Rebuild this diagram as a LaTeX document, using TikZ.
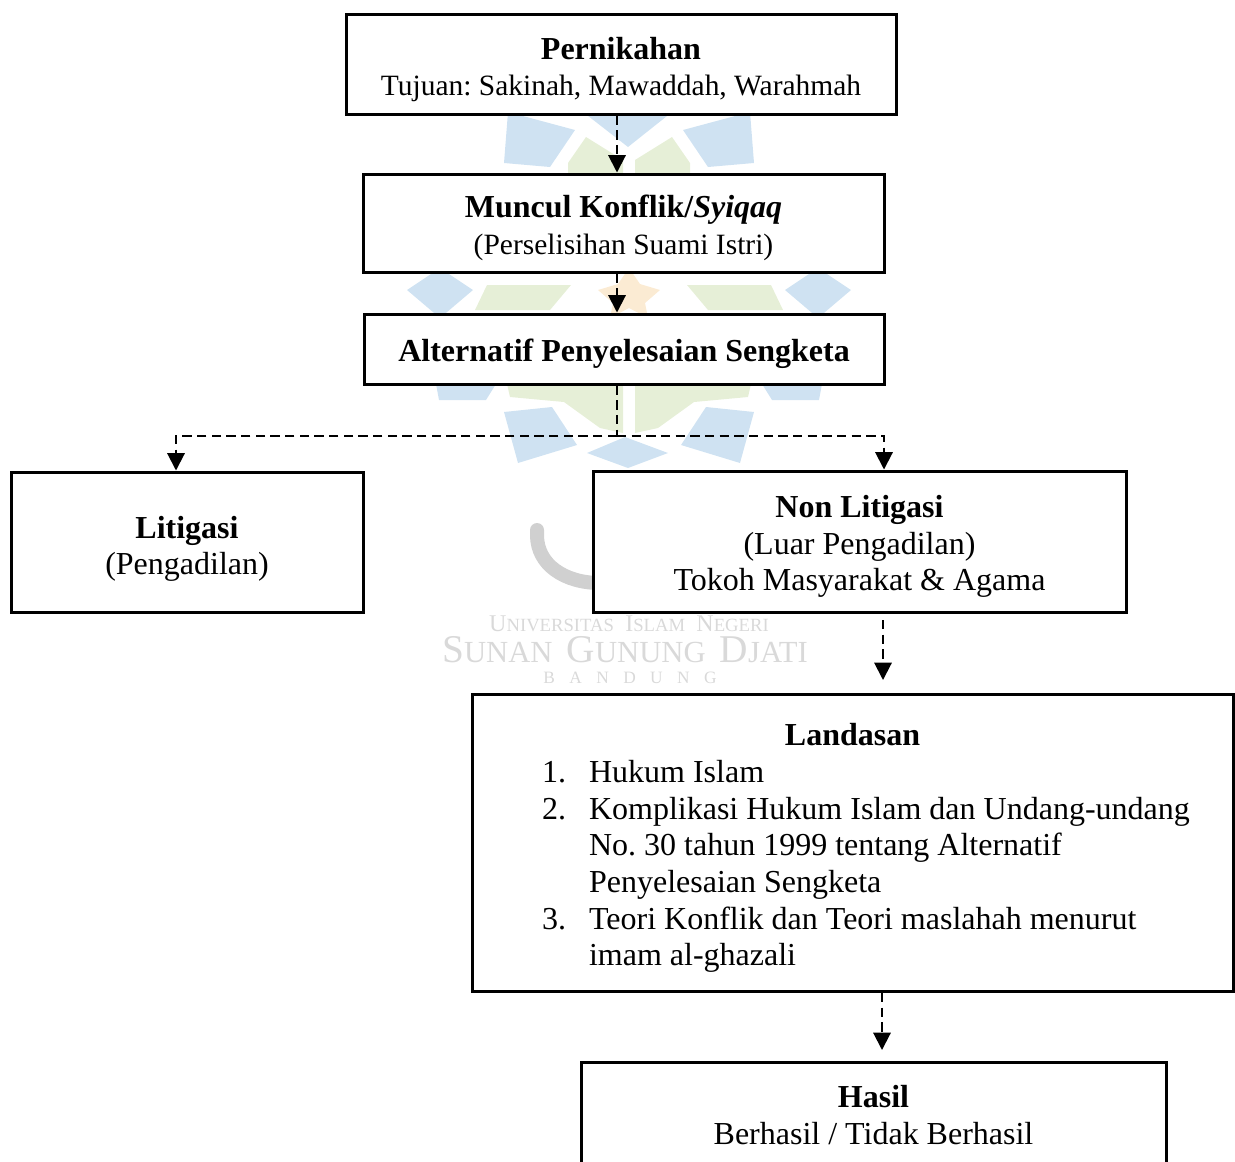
\documentclass[tikz,border=0pt]{standalone}
\usepackage{fontspec}
\setmainfont{Liberation Serif}
\usetikzlibrary{arrows.meta}
\frenchspacing
\definecolor{wmblue}{HTML}{CFE2F2}
\definecolor{wmgreen}{HTML}{E6EFD7}
\definecolor{wmorange}{HTML}{FBEBD3}
\definecolor{wmgray}{HTML}{D9D9D9}
\definecolor{wmarc}{HTML}{D0D0D0}
\newcommand{\bodysize}{\fontsize{24}{27.5}\selectfont}
\newcommand{\subsize}{\fontsize{22.1}{27.5}\selectfont}
\newcommand{\tp}[1]{\rule{0pt}{#1pt}}
\newcommand{\wmbig}[1]{{\fontsize{29.5}{30}\selectfont #1}}
\newcommand{\wmmid}[1]{{\fontsize{23}{24}\selectfont #1}}
\newcommand{\wmsm}[1]{{\fontsize{18}{19}\selectfont #1}}
\newcommand{\wmtin}[1]{{\fontsize{14}{15}\selectfont #1}}
\newcommand{\listline}[2]{\hspace*{20.25pt}\makebox[35.3pt][l]{#1}#2}
\newcommand{\listcont}[1]{\hspace*{55.55pt}#1}
\tikzset{
  boxnode/.style={draw=black,line width=2.25pt,fill=white,inner sep=0pt,align=center,font=\bodysize,anchor=center},
  flow/.style={draw=black,line width=1.5pt,dash pattern=on 7pt off 4pt},
  flowhead/.style={flow,-{Triangle[length=13pt,width=13pt]}},
  wmb/.style={fill=wmblue,draw=none},
  wmg/.style={fill=wmgreen,draw=none},
  wmtext/.style={text=wmgray,inner sep=0pt,anchor=center}
}
\begin{document}
\begin{tikzpicture}[x=0.75pt,y=-0.75pt]
\clip (0,0) rectangle (1235,1161);
% watermark, mirrored about x=629
\begin{scope}
  \foreach \s in {1,-1}{
    \begin{scope}[shift={(629,0)},xscale=\s]
      \fill[wmb] (-121,112) -- (-54,130) -- (-79,167) -- (-125,163) -- cycle;
      \fill[wmb] (-222,290) -- (-189,268) -- (-156,290) -- (-189,318) -- cycle;
      \fill[wmb] (-193,384) -- (-133,384) -- (-143,400) -- (-190,400) -- cycle;
      \fill[wmb] (-125,412) -- (-77,407) -- (-52,445) -- (-111,463) -- cycle;
      \fill[wmg] (-142,285) -- (-58,285) -- (-79,310) -- (-154,310) -- cycle;
      \fill[wmg] (-61,163) -- (-43,137) -- (-6,160) -- (-6,175) -- (-61,175) -- cycle;
      \fill[wmg] (-122,384) -- (-6,384) -- (-6,433) -- (-29,428) -- (-65,402) -- (-119,397) -- cycle;
    \end{scope}
  }
  \fill[wmb] (583,112) -- (628,147) -- (672,112) -- cycle;
  \fill[wmb] (587,453) -- (625,437) -- (668,453) -- (628,468) -- cycle;
  \fill[wmorange] (629,268) -- (640,284) -- (660,290) -- (645,303) -- (648,318)
     -- (629,308) -- (610,318) -- (613,303) -- (598,290) -- (618,284) -- cycle;
  \draw[wmarc,line width=10.5pt,line cap=round] (537,530) -- (537,535) .. controls (537,565) and (565,583) .. (600,583);
  \node[wmtext] (wm1) at (629,624) {\wmsm{U}\wmtin{NIVERSITAS}\hspace{6pt} \wmsm{I}\wmtin{SLAM}\hspace{6pt} \wmsm{N}\wmtin{EGERI}};
  \node[wmtext] (wm2) at (625,650) {\wmbig{S}\wmmid{UNAN}\hspace{8pt} \wmbig{G}\wmmid{UNUNG}\hspace{8pt} \wmbig{D}\wmmid{JATI}};
  \node[wmtext] (wm3) at (630,678) {\fontsize{13}{13}\selectfont B\,\,\,\,\,A\,\,\,\,\,N\,\,\,\,\,D\,\,\,\,\,U\,\,\,\,\,N\,\,\,\,\,G};
\end{scope}
% routing coordinates
\coordinate (trunkx) at (617,436);
\coordinate (litx) at (176,436);
\coordinate (nonx) at (884,436);
\coordinate (out4) at (883,620);
\coordinate (tip4) at (883,680);
\coordinate (out5) at (882,993);
\coordinate (tip5) at (882,1050);
% boxes
\node[boxnode,minimum width=412.5pt,minimum height=75pt] (nikah) at (621,64)
  {\tp{25}\textbf{Pernikahan}\\{\subsize Tujuan: Sakinah, Mawaddah, Warahmah}};
\node[boxnode,minimum width=390.75pt,minimum height=73.5pt] (konflik) at (623.5,223)
  {\tp{24}\textbf{Muncul Konflik/\textit{Syiqaq}}\\{\subsize (Perselisihan Suami Istri)}};
\node[boxnode,minimum width=390pt,minimum height=52.5pt] (alt) at (624,349)
  {\tp{24}\textbf{Alternatif Penyelesaian Sengketa}};
\node[boxnode,minimum width=264pt,minimum height=105pt] (lit) at (187,542)
  {\tp{27}\textbf{Litigasi}\\(Pengadilan)};
\node[boxnode,minimum width=399.75pt,minimum height=105.75pt] (non) at (859.5,541.5)
  {\tp{24}\textbf{Non Litigasi}\\(Luar Pengadilan)\\Tokoh Masyarakat \& Agama};
\node[boxnode,minimum width=570.75pt,minimum height=222.75pt,align=left] (lan) at (852.5,842.5)
  {\tp{25}\makebox[506.25pt][c]{\textbf{Landasan}}\\
   \listline{1.}{Hukum Islam}\\
   \listline{2.}{Komplikasi Hukum Islam dan Undang-undang}\\
   \listcont{No. 30 tahun 1999 tentang Alternatif}\\
   \listcont{Penyelesaian Sengketa}\\
   \listline{3.}{Teori Konflik dan Teori maslahah menurut}\\
   \listcont{imam al-ghazali}};
\node[boxnode,minimum width=438.75pt,minimum height=88.5pt] (has) at (873.5,1121)
  {\textbf{Hasil}\\Berhasil / Tidak Berhasil\rule[-8.75pt]{0pt}{1pt}};
% connectors
\draw[flowhead] (trunkx |- nikah.south) -- (trunkx |- konflik.north);
\draw[flowhead] (trunkx |- konflik.south) -- (trunkx |- alt.north);
\draw[flow] (trunkx |- alt.south) -- (trunkx);
\draw[flowhead] (trunkx) -- (litx) -- (litx |- lit.north);
\draw[flowhead] (trunkx) -- (nonx) -- (nonx |- non.north);
\draw[flowhead] (out4) -- (tip4);
\draw[flowhead] (out5) -- (tip5);
\end{tikzpicture}
\end{document}
